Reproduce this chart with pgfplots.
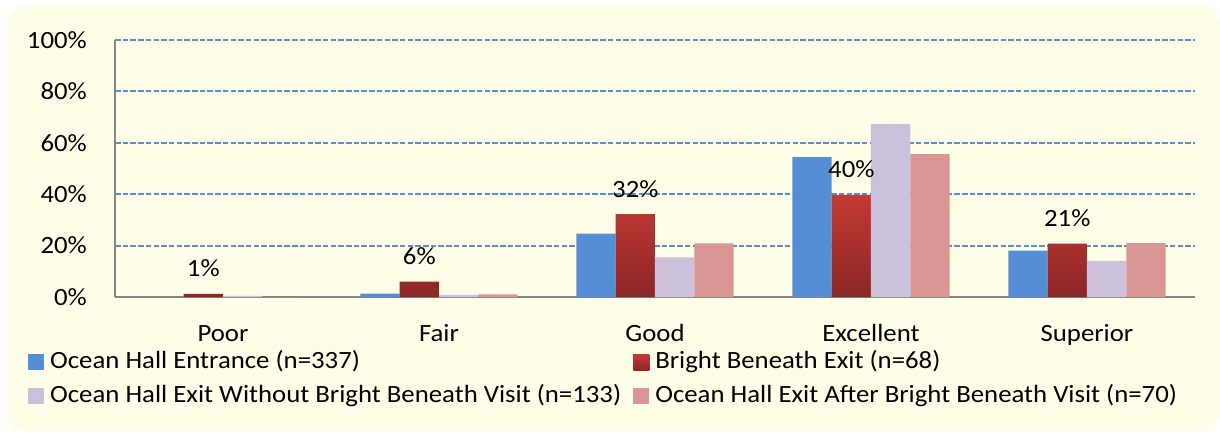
\documentclass[border=0pt]{standalone}
\usepackage{fontspec}
\setmainfont{Carlito}[FakeStretch=1.08]
\usepackage{pgfplots}
\pgfplotsset{compat=1.18}
\definecolor{bgY}{RGB}{254,254,232}
\definecolor{sBlue}{RGB}{85,142,213}
\definecolor{sRedT}{RGB}{195,58,52}
\definecolor{sRedB}{RGB}{140,38,38}
\definecolor{sLav}{RGB}{204,193,218}
\definecolor{sPink}{RGB}{217,150,148}
\definecolor{gridB}{RGB}{90,140,208}
\definecolor{axG}{RGB}{134,134,134}
\begin{document}
\begin{tikzpicture}[x=1pt,y=1pt]
\useasboundingbox (0,0) rectangle (1220,434);
\fill[bgY, rounded corners=20pt] (7,2) rectangle (1220,429);
\begin{axis}[
  at={(115pt,137pt)}, anchor=south west,
  width=1080pt, height=257pt, scale only axis,
  xmin=-0.5, xmax=4.5, ymin=0, ymax=100,
  ybar=0pt, bar width=39.3pt,
  axis x line*=bottom, axis y line*=left,
  axis line style={axG, line width=1.5pt, -},
  xtick={0,1,2,3,4}, xticklabels={Poor,Fair,Good,Excellent,Superior},
  ytick={0,20,40,60,80,100}, yticklabels={0\%,20\%,40\%,60\%,80\%,100\%},
  major tick length=0pt,
  ymajorgrids, grid style={gridB, line width=2pt, dash pattern=on 5.5pt off 2.2pt},
  tick label style={font=\fontsize{24.8}{29}\selectfont, text=black},
  yticklabel style={anchor=east, inner sep=0pt, xshift=-28pt},
  xticklabel style={anchor=base, inner sep=0pt, yshift=-44pt},
  /pgf/number format/assume math mode=true,
  every axis plot/.append style={draw=none,
    legend image code/.code={\fill[##1] (0pt,-8pt) rectangle (16pt,8pt);}},
  legend columns=2,
  legend cell align=left,
  legend style={at={(-0.0806,-0.207)}, anchor=north west, draw=none, fill=none,
    inner sep=0pt, font=\fontsize{24.8}{29}\selectfont,
    nodes={inner sep=0pt, text height=18pt, text depth=6pt},
    row sep=10pt,
    /tikz/every odd column/.append style={column sep=6pt},
    /tikz/every even column/.append style={column sep=12pt}},
]
\addplot[fill=sBlue] coordinates {(0,0) (1,1.3) (2,24.7) (3,54.4) (4,18.0)};
\addlegendentry{Ocean Hall Entrance (n=337)}
\addplot[top color=sRedT, bottom color=sRedB,
  nodes near coords={\pgfmathprintnumber[fixed,precision=0]{\pgfplotspointmeta}\%},
  nodes near coords style={anchor=base, inner sep=0pt, yshift=17pt, text=black,
    font=\fontsize{24.8}{29}\selectfont}]
  coordinates {(0,1.2) (1,6.0) (2,32.2) (3,39.7) (4,20.8)};
\addlegendentry{Bright Beneath Exit (n=68)}
\addplot[fill=sLav] coordinates {(0,0.4) (1,0.85) (2,15.4) (3,67.3) (4,14.1)};
\addlegendentry{Ocean Hall Exit Without Bright Beneath Visit (n=133)}
\addplot[fill=sPink] coordinates {(0,0) (1,1.0) (2,20.9) (3,55.6) (4,21.0)};
\addlegendentry{Ocean Hall Exit After Bright Beneath Visit (n=70)}
\end{axis}
\end{tikzpicture}
\end{document}
